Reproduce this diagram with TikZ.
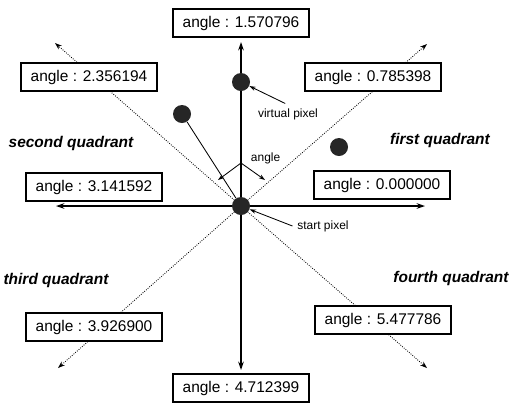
\documentclass[tikz,border=0pt]{standalone}
\usepackage{fontspec}
\setmainfont{Liberation Sans}
\usetikzlibrary{arrows.meta}

\begin{document}
\begin{tikzpicture}[
    x=0.025cm, y=-0.025cm,
    anglebox/.style={rectangle, draw, fill=white, line width=0.8pt, minimum width=3.4cm, minimum height=0.7cm, inner sep=2pt, font=\fontsize{11}{13}\selectfont},
    quad/.style={font=\fontsize{11}{13}\selectfont\bfseries\itshape},
    note/.style={font=\fontsize{8.5}{10}\selectfont},
    pixel/.style={circle, fill=black!85, minimum size=0.45cm, inner sep=0pt},
    axis/.style={<->, >={Stealth[length=6pt,width=4pt]}, line width=1.3pt},
    diag/.style={->, >={Stealth[length=5pt,width=3.5pt]}, line width=0.6pt, densely dotted},
    ptr/.style={->, >={Stealth[length=4.5pt,width=3pt]}, line width=0.6pt}
]
\useasboundingbox (0,0) rectangle (510,404);

% Center and axis ends
\coordinate (o) at (241,206);
\coordinate (tipN) at (241,42);
\coordinate (tipS) at (241,370);
\coordinate (tipW) at (56,206);
\coordinate (tipE) at (425,206);
\coordinate (tipNW) at (55,43);
\coordinate (tipNE) at (427,44);
\coordinate (tipSW) at (58,368);
\coordinate (tipSE) at (427,368);

% Diagonals
\draw[diag] (o) -- (tipNW);
\draw[diag] (o) -- (tipNE);
\draw[diag] (o) -- (tipSW);
\draw[diag] (o) -- (tipSE);

% Axes
\draw[axis] (tipW) -- (tipE);
\draw[axis] (tipS) -- (tipN);

% Angle boxes
\node[anglebox] (a90) at (241,23) {angle : 1.570796};
\node[anglebox] (a135) at (89,77) {angle : 2.356194};
\node[anglebox] (a45) at (373,77) {angle : 0.785398};
\node[anglebox] (a180) at (94,187) {angle : 3.141592};
\node[anglebox] (a0) at (382,185) {angle : 0.000000};
\node[anglebox] (a225) at (94,327) {angle : 3.926900};
\node[anglebox] (a315) at (383,320) {angle : 5.477786};
\node[anglebox] (a270) at (241,388) {angle : 4.712399};

% Pixels
\node[pixel] (start) at (o) {};
\node[pixel] (virt) at (241,82) {};
\node[pixel] (pxA) at (182,114) {};
\node[pixel] (pxB) at (339,147) {};
\draw[line width=0.6pt] (pxA) -- (start);

% Angle mark
\coordinate (angtop) at (241,163);
\coordinate (angL) at (218,180);
\coordinate (angR) at (265,180);
\draw[ptr] (angtop) -- (angL);
\draw[ptr] (angtop) -- (angR);
\node[note, anchor=west] (anglab) at (246,158) {angle};

% Pixel labels
\node[note] (vlab) at (288,114) {virtual pixel};
\draw[ptr] ([xshift=-2pt]vlab.north) -- (virt);
\node[note] (slab) at (323,226) {start pixel};
\draw[ptr] (slab.west) -- (start);

% Quadrants
\node[quad] (q2) at (71,143) {second quadrant};
\node[quad] (q1) at (440,140) {first quadrant};
\node[quad] (q3) at (56,280) {third quadrant};
\node[quad] (q4) at (451,278) {fourth quadrant};

\end{tikzpicture}
\end{document}
